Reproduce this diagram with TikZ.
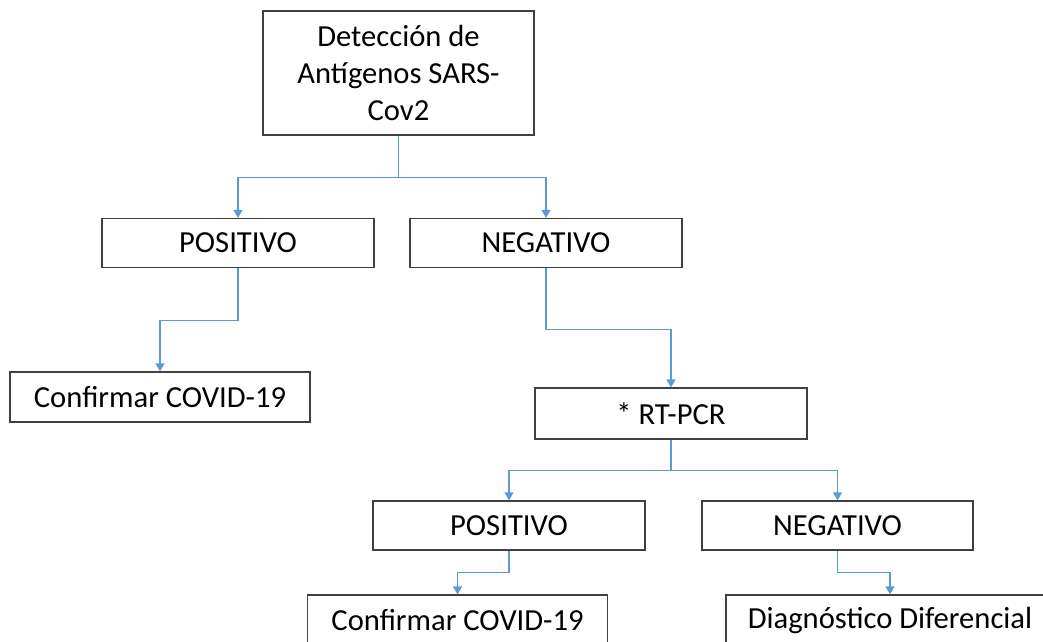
\documentclass[tikz,border=0pt]{standalone}
\usepackage{fontspec}
\setmainfont{Carlito}
\usepackage{tikz}
\usetikzlibrary{arrows.meta,positioning,calc}
\definecolor{linkblue}{HTML}{5B9BD5}
\definecolor{boxline}{HTML}{404040}

\begin{document}
\begin{tikzpicture}[x=1pt,y=-1pt]
\tikzstyle{box}=[draw=boxline,line width=1.3pt,rectangle,align=center,inner sep=0pt,
  font=\fontsize{30.6}{37.3}\selectfont,minimum height=49pt]
\tikzstyle{conn}=[draw=linkblue,line width=1.3pt,
  -{Triangle[width=9pt,length=8pt]}]
\path[use as bounding box,clip] (0,0) rectangle (1043,641);

\node[box,minimum width=271pt,minimum height=124pt] (det) at (398.5,73)
  {Detección de\\Antígenos SARS-\\Cov2};

\node[box,minimum width=272pt] (pos1) at (238,243) {POSITIVO};
\node[box,minimum width=272pt] (neg1) at (546,243) {NEGATIVO};

\node[box,minimum width=300pt,minimum height=50pt] (conf1) at (160,397) {Confirmar COVID-19};
\node[box,minimum width=272pt,minimum height=51pt] (pcr) at (671,413.5) {* RT-PCR};

\node[box,minimum width=272pt] (pos2) at (509,525.5) {POSITIVO};
\node[box,minimum width=271pt] (neg2) at (837.5,525.5) {NEGATIVO};

\node[box,minimum width=300pt,minimum height=50pt] (conf2) at (457.5,620) {Confirmar COVID-19};
\node[box,minimum width=328pt,minimum height=50pt] (diag) at (890,620) {Diagnóstico Diferencial};

% primera prueba
\draw[conn] (det.south) -- ++(0,42) coordinate (j1) -| (pos1.north);
\draw[conn] (j1) -| (neg1.north);

\draw[conn] (pos1.south) -- ++(0,52) -| (conf1.north);
\draw[conn] (neg1.south) -- ++(0,61) -| (pcr.north);

% RT-PCR
\draw[conn] (pcr.south) -- ++(0,31) coordinate (j2) -| (pos2.north);
\draw[conn] (j2) -| (neg2.north);

\draw[conn] (pos2.south) -- ++(0,22) -| (conf2.north);
\draw[conn] (neg2.south) -- ++(0,22) -| (diag.north);

\end{tikzpicture}
\end{document}
